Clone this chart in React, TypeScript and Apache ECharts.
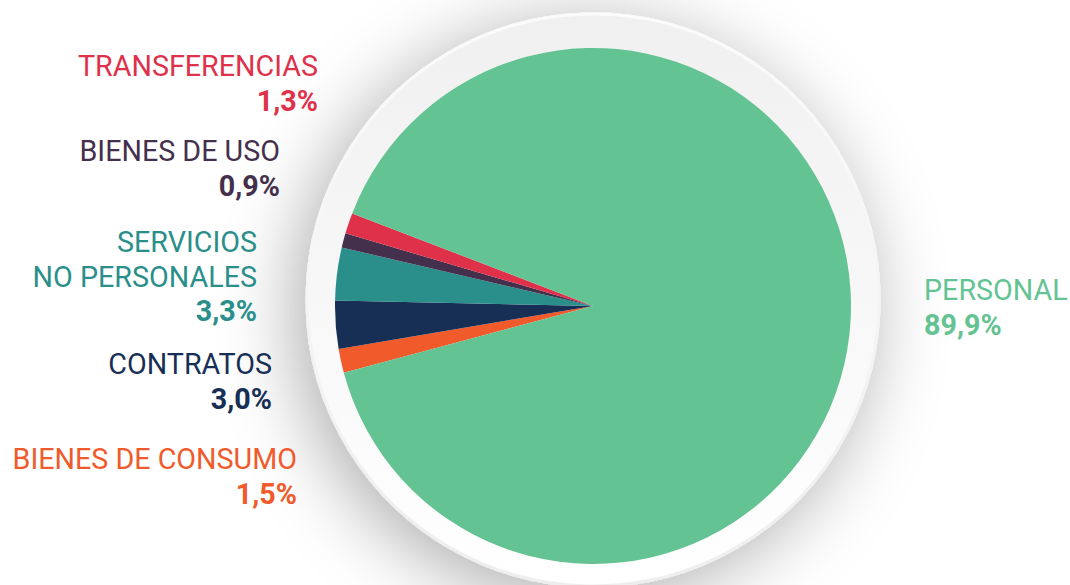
import React, { useEffect, useRef } from "react";
import * as echarts from "echarts";

const categories = [
  "BIENES DE CONSUMO",
  "CONTRATOS",
  "SERVICIOS\nNO PERSONALES",
  "BIENES DE USO",
  "TRANSFERENCIAS",
  "PERSONAL",
];
const values = [1.5, 3.0, 3.3, 0.9, 1.3, 89.9];
const colors = ["#f15a2b", "#172f55", "#2a8f8a", "#44304c", "#e0314b", "#64c393"];

// label anchor positions (layout only)
const labelPos = [
  { x: 297, y: 442, align: "right" },
  { x: 272, y: 347, align: "right" },
  { x: 257, y: 225, align: "right" },
  { x: 280, y: 134, align: "right" },
  { x: 318, y: 49, align: "right" },
  { x: 924, y: 273, align: "left" },
];

const FONT = "Roboto, 'Noto Sans', sans-serif";

export default function App() {
  const ref = useRef<HTMLDivElement>(null);
  useEffect(() => {
    if (!ref.current) return;
    const chart = echarts.init(ref.current, undefined, { renderer: "svg" });
    const cx = 593;
    const cy = 306;
    const data = categories.map((name, i) => {
      const align = labelPos[i].align;
      const rich = {
        n: { fontFamily: FONT, fontSize: 28.7, fontWeight: 400, color: colors[i], lineHeight: 34.5, align },
        v: { fontFamily: FONT, fontSize: 28.7, fontWeight: 700, color: colors[i], lineHeight: 34.5, align },
      };
      return {
        name,
        value: values[i],
        itemStyle: { color: colors[i] },
        label: {
          formatter: () => {
            const lines = name.split("\n").map((l) => `{n|${l}}`);
            const v = values[i].toFixed(1).replace(".", ",") + "%";
            return lines.join("\n") + `\n{v|${v}}`;
          },
          rich,
          align,
        },
      };
    });
    chart.setOption({
      animation: false,
      backgroundColor: "#ffffff",
      graphic: [
        {
          type: "circle",
          z: -10,
          shape: { cx, cy: cy - 6, r: 286 },
          style: {
            fill: new echarts.graphic.LinearGradient(0, 0, 0, 1, [
              { offset: 0, color: "#f0f0f0" },
              { offset: 1, color: "#ffffff" },
            ]),
            stroke: new echarts.graphic.LinearGradient(0, 0, 0, 1, [
              { offset: 0, color: "#fbfbfb" },
              { offset: 1, color: "#eeeeee" },
            ]),
            lineWidth: 3,
            shadowBlur: 75,
            shadowColor: "rgba(0,0,0,0.32)",
            shadowOffsetX: -10,
            shadowOffsetY: 12,
          },
        },
      ],
      series: [
        {
          type: "pie",
          z: 5,
          center: [cx, cy],
          radius: [0, 258],
          startAngle: 195,
          clockwise: true,
          avoidLabelOverlap: false,
          itemStyle: { borderWidth: 0 },
          label: { show: true, position: "outside" },
          labelLine: { show: false },
          emphasis: { disabled: true },
          labelLayout: (params: any) => {
            const p = labelPos[params.dataIndex];
            return { x: p.x, y: p.y, align: p.align, verticalAlign: "top" };
          },
          data,
        },
      ],
    });
    return () => chart.dispose();
  }, []);
  return (
    <div
      ref={ref}
      style={{ position: "fixed", left: 0, top: 0, width: 1070, height: 585 }}
    />
  );
}
